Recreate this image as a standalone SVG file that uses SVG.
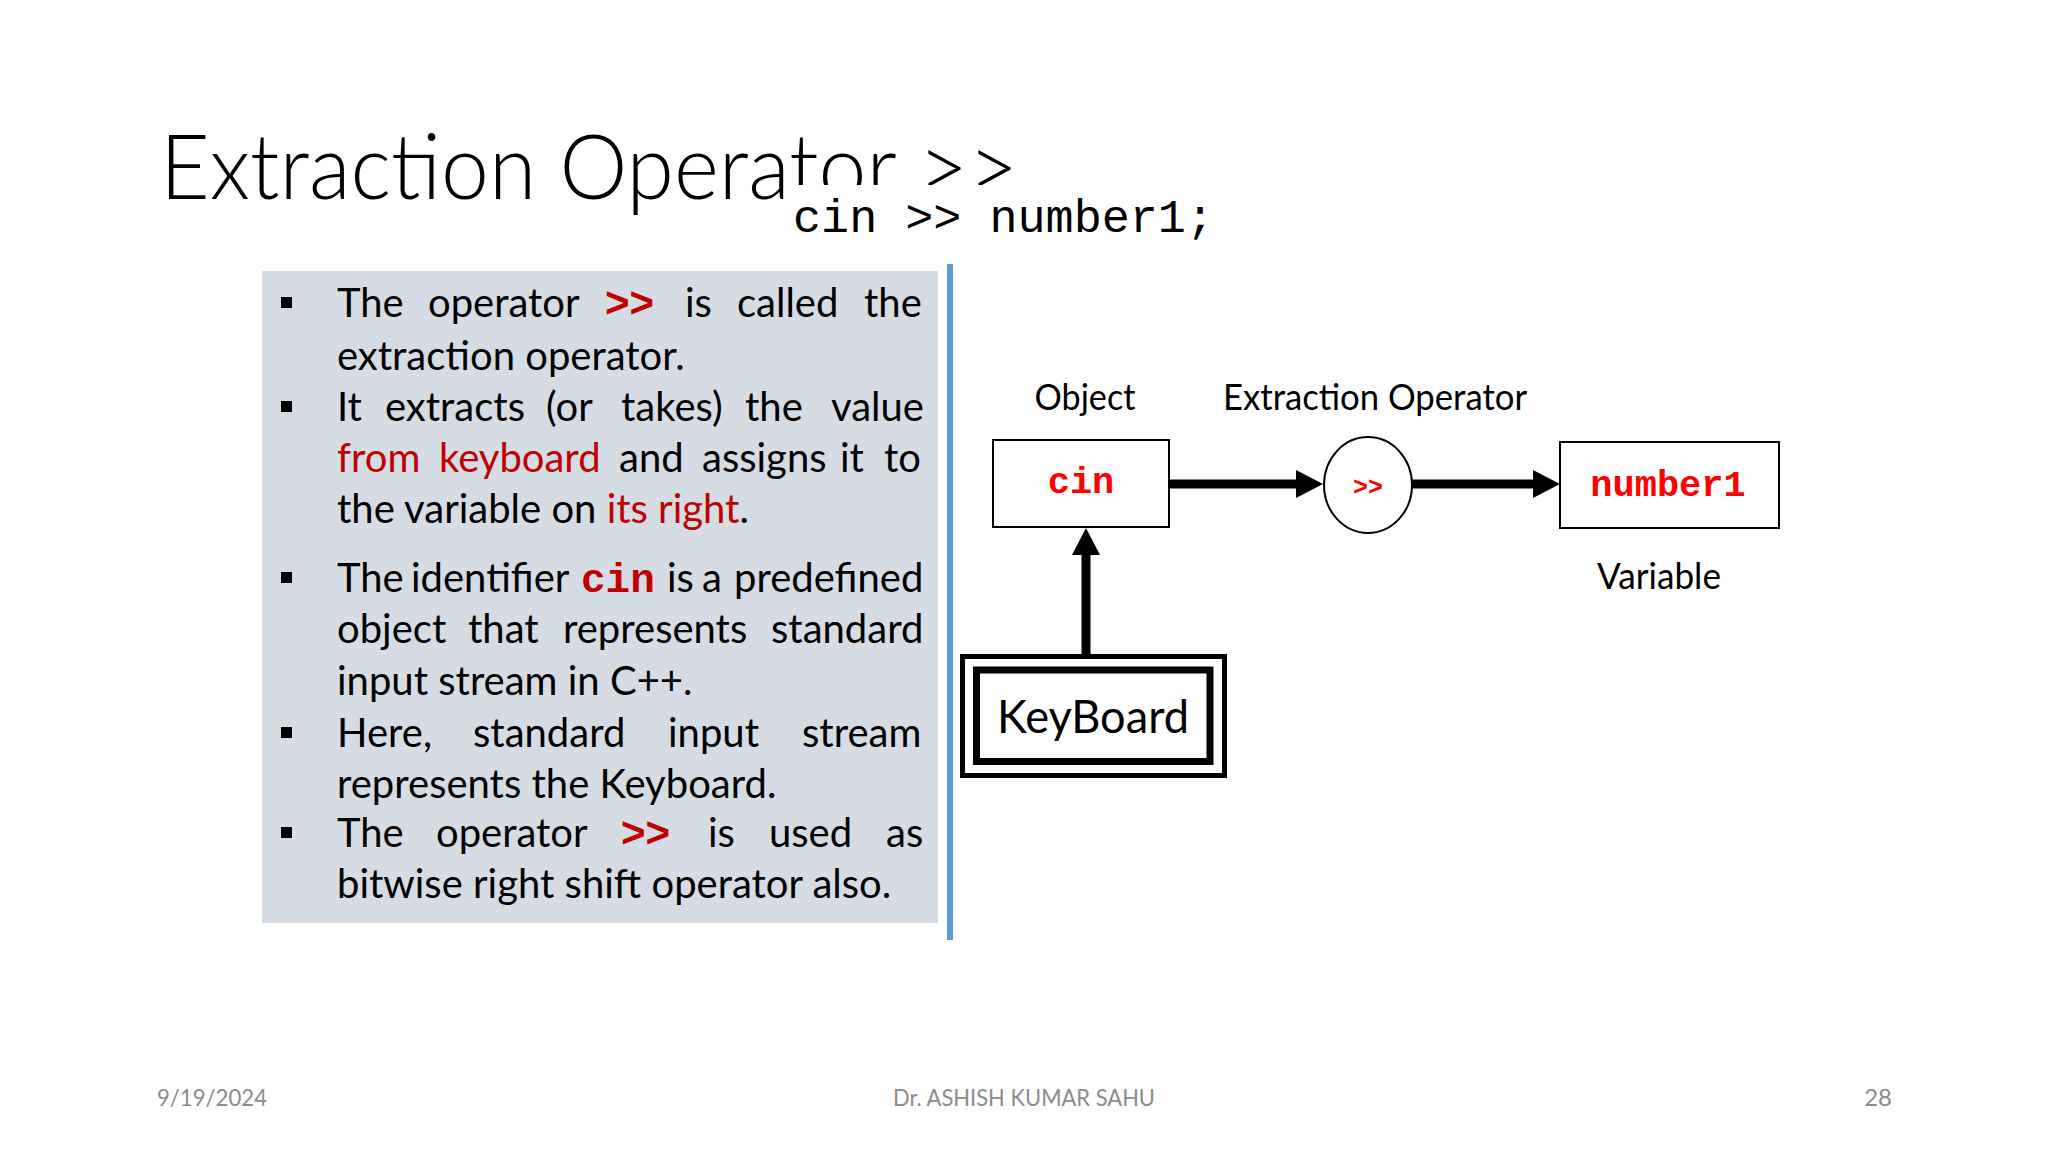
<svg xmlns="http://www.w3.org/2000/svg" width="2048" height="1152" viewBox="0 0 2048 1152">
<style>
.t{font-family:Lato,"Liberation Sans",sans-serif;fill:#000}
.body{font-size:40px}
.red{fill:#C00000}
.b{font-weight:bold}
.op{font-family:"Liberation Sans",Arial,sans-serif;font-weight:bold;font-size:42px;fill:#C00000}
.mono{font-family:"Liberation Mono","DejaVu Sans Mono",monospace}
.code{font-family:"Liberation Mono","DejaVu Sans Mono",monospace;font-weight:bold;fill:#FF0000}
.lbl{font-family:Lato,"Liberation Sans",sans-serif;font-size:36px;fill:#000;text-anchor:middle}
.box{fill:#fff;stroke:#000;stroke-width:2}
.conn{stroke:#000;stroke-width:9;fill:none}
.foot{font-family:Lato,"Liberation Sans",sans-serif;font-size:24px;fill:#8B8B8B}
.bul{fill:#000}
</style>
<defs>
<marker id="ah" markerUnits="userSpaceOnUse" markerWidth="27" markerHeight="28" refX="0" refY="14" orient="auto">
<path d="M0,0 L27,14 L0,28 Z" fill="#000"/>
</marker>
</defs>
<rect width="2048" height="1152" fill="#fff"/>

<g id="title">
<text class="t" x="160" y="199" font-size="90" font-weight="300" textLength="858" lengthAdjust="spacingAndGlyphs">Extraction Operator &gt;&gt;</text>
<rect x="785" y="185" width="440" height="60" fill="#fff"/>
<text class="mono" x="793" y="232" font-size="47" textLength="421" lengthAdjust="spacingAndGlyphs">cin &gt;&gt; number1;</text>
</g>

<g id="textbox">
<rect x="262" y="271" width="676" height="652" fill="#D6DCE4"/>
<rect class="bul" x="281" y="297" width="11" height="11"/>
<rect class="bul" x="281" y="401" width="11" height="11"/>
<rect class="bul" x="281" y="572" width="11" height="11"/>
<rect class="bul" x="281" y="727" width="11" height="11"/>
<rect class="bul" x="281" y="827" width="11" height="11"/>
<text class="t body" y="317"><tspan x="337">The</tspan><tspan x="428">operator</tspan><tspan x="605" class="op">&gt;&gt;</tspan><tspan x="685">is</tspan><tspan x="737">called</tspan><tspan x="864">the</tspan></text>
<text class="t body" x="337" y="370">extraction operator.</text>
<text class="t body" y="421"><tspan x="337">It</tspan><tspan x="385">extracts</tspan><tspan x="546">(or</tspan><tspan x="621">takes)</tspan><tspan x="745">the</tspan><tspan x="831">value</tspan></text>
<text class="t body" y="472"><tspan x="337" class="red">from</tspan><tspan x="439" class="red">keyboard</tspan><tspan x="619">and</tspan><tspan x="702">assigns</tspan><tspan x="840">it</tspan><tspan x="884">to</tspan></text>
<text class="t body" x="337" y="523">the variable on <tspan class="red">its right</tspan>.</text>
<text class="t body" y="592"><tspan x="337">The</tspan><tspan x="411">identifier</tspan><tspan x="581" class="mono b red" font-size="41">cin</tspan><tspan x="667">is</tspan><tspan x="702">a</tspan><tspan x="734">predefined</tspan></text>
<text class="t body" y="643"><tspan x="337">object</tspan><tspan x="468">that</tspan><tspan x="563">represents</tspan><tspan x="771">standard</tspan></text>
<text class="t body" x="337" y="695">input stream in C++.</text>
<text class="t body" y="747"><tspan x="337">Here,</tspan><tspan x="473">standard</tspan><tspan x="668">input</tspan><tspan x="802">stream</tspan></text>
<text class="t body" x="337" y="798">represents the Keyboard.</text>
<text class="t body" y="847"><tspan x="337">The</tspan><tspan x="436">operator</tspan><tspan x="621" class="op">&gt;&gt;</tspan><tspan x="708">is</tspan><tspan x="769">used</tspan><tspan x="886">as</tspan></text>
<text class="t body" x="337" y="898">bitwise right shift operator also.</text>
</g>

<g id="divider">
<rect x="947" y="264" width="6" height="676" fill="#5B9BD5"/>
</g>

<g id="labels">
<text class="lbl" x="1085" y="410" textLength="101" lengthAdjust="spacingAndGlyphs">Object</text>
<text class="lbl" x="1375" y="410" textLength="304" lengthAdjust="spacingAndGlyphs">Extraction Operator</text>
<text class="lbl" x="1659" y="589" textLength="124" lengthAdjust="spacingAndGlyphs">Variable</text>
</g>

<g id="node-cin">
<rect class="box" x="993" y="440" width="176" height="87"/>
<text class="code" x="1081" y="493" font-size="37" text-anchor="middle">cin</text>
</g>

<g id="node-operator">
<ellipse class="box" cx="1368" cy="485" rx="44" ry="48"/>
<text class="code" x="1368" y="495" font-size="25" text-anchor="middle">&gt;&gt;</text>
</g>

<g id="node-number1">
<rect class="box" x="1560" y="442" width="219" height="86"/>
<text class="code" x="1668" y="496" font-size="37" text-anchor="middle">number1</text>
</g>

<g id="node-keyboard">
<rect x="962.5" y="656.5" width="262" height="119" fill="#fff" stroke="#000" stroke-width="5"/>
<rect x="976.5" y="670" width="233.5" height="91.5" fill="none" stroke="#000" stroke-width="7"/>
<text class="t" x="1093" y="733" font-size="47" text-anchor="middle" textLength="192" lengthAdjust="spacingAndGlyphs">KeyBoard</text>
</g>

<g id="connectors">
<line class="conn" x1="1169" y1="484" x2="1296" y2="484" marker-end="url(#ah)"/>
<line class="conn" x1="1412" y1="484" x2="1533" y2="484" marker-end="url(#ah)"/>
<line class="conn" x1="1086" y1="654" x2="1086" y2="555" marker-end="url(#ah)"/>
</g>

<g id="footer">
<text class="foot" x="157" y="1106" textLength="110" lengthAdjust="spacingAndGlyphs">9/19/2024</text>
<text class="foot" x="1024" y="1106" text-anchor="middle" textLength="262" lengthAdjust="spacingAndGlyphs">Dr. ASHISH KUMAR SAHU</text>
<text class="foot" x="1892" y="1106" text-anchor="end">28</text>
</g>
</svg>
